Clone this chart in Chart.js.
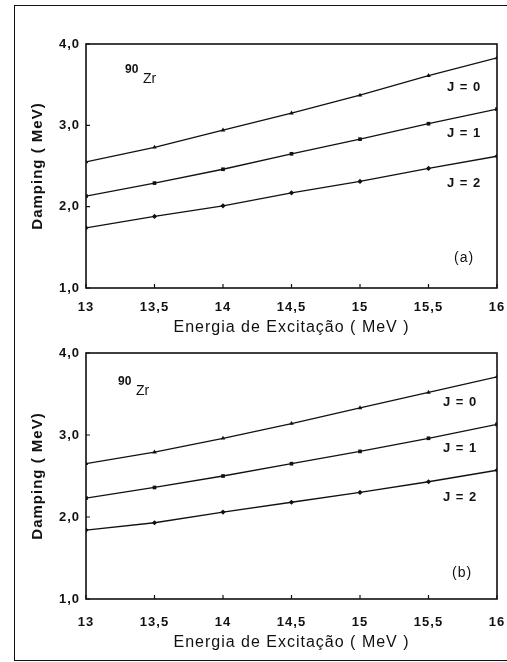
<!DOCTYPE html>
<html>
<head>
<meta charset="utf-8">
<script src="https://cdn.jsdelivr.net/npm/chart.js@4/dist/chart.umd.min.js"></script>
<style>
  body { margin: 0; background: #fff; }
  .frame { position: absolute; left: 14px; top: 5px; width: 520px; height: 654px; border: 1.5px solid #111; }
  .panel { position: absolute; left: 0; width: 507px; }
  #pa { top: 0; height: 337px; }
  #pb { top: 330px; height: 322px; }
</style>
</head>
<body>
<div class="frame"></div>
<div class="panel" id="pa"><canvas id="chartA"></canvas></div>
<div class="panel" id="pb"><canvas id="chartB"></canvas></div>
<script>
// excitation energy (MeV)
const energies = [13, 13.5, 14, 14.5, 15, 15.5, 16];

// damping width (MeV), panel (a)
const dampA_J0 = [2.55, 2.73, 2.94, 3.15, 3.37, 3.61, 3.83];
const dampA_J1 = [2.13, 2.29, 2.46, 2.65, 2.83, 3.02, 3.20];
const dampA_J2 = [1.74, 1.88, 2.01, 2.17, 2.31, 2.47, 2.62];

// damping width (MeV), panel (b)
const dampB_J0 = [2.65, 2.79, 2.96, 3.14, 3.33, 3.52, 3.71];
const dampB_J1 = [2.23, 2.36, 2.50, 2.65, 2.80, 2.96, 3.13];
const dampB_J2 = [1.84, 1.93, 2.06, 2.18, 2.30, 2.43, 2.57];

const spinLabels = ['J = 0', 'J = 1', 'J = 2'];
const xTicks = [13, 13.5, 14, 14.5, 15, 15.5, 16];
const yTicks = [1, 2, 3, 4];

const FONT = "'Liberation Sans', Arial, sans-serif";
const comma = v => String(v).replace('.', ',');

function series(values, style) {
  return {
    data: energies.map((e, k) => ({ x: e, y: values[k] })),
    borderColor: '#111',
    borderWidth: 1.3,
    pointStyle: style,
    pointRadius: 2.6,
    pointBackgroundColor: '#111',
    pointBorderColor: '#111',
    pointBorderWidth: 0,
    tension: 0
  };
}

// frame, inward ticks and text notes on the plot
const decor = {
  id: 'decor',
  beforeDraw(chart) {
    chart.ctx.letterSpacing = '1px';
  },
  afterDraw(chart) {
    const { ctx, chartArea: a, scales } = chart;
    const n = chart.options.plugins.decor;
    ctx.save();
    ctx.strokeStyle = '#111';
    ctx.lineWidth = 1.6;
    ctx.strokeRect(a.left, a.top, a.right - a.left, a.bottom - a.top);
    ctx.lineWidth = 1.2;
    ctx.beginPath();
    xTicks.forEach(v => {
      const px = scales.x.getPixelForValue(v);
      ctx.moveTo(px, a.bottom); ctx.lineTo(px, a.bottom - 4);
    });
    yTicks.forEach(v => {
      const py = scales.y.getPixelForValue(v);
      ctx.moveTo(a.left, py); ctx.lineTo(a.left + 4, py);
    });
    ctx.stroke();

    ctx.fillStyle = '#111';
    ctx.textBaseline = 'middle';
    ctx.textAlign = 'left';
    ctx.letterSpacing = '0px';
    ctx.font = 'bold 12px ' + FONT;
    ctx.fillText('90', a.left + n.iso[0], a.top + n.iso[1]);
    ctx.font = '14px ' + FONT;
    ctx.fillText('Zr', a.left + n.iso[0] + 18, a.top + n.iso[1] + 9);
    ctx.letterSpacing = '1px';
    ctx.font = 'bold 13px ' + FONT;
    spinLabels.forEach((t, k) => {
      ctx.fillText(t, n.jx, n.jy[k]);
    });
    ctx.font = '14px ' + FONT;
    ctx.fillText(n.tag, n.tagPos[0], n.tagPos[1]);
    ctx.restore();
  }
};

function makeChart(id, sets, o) {
  return new Chart(document.getElementById(id), {
    type: 'line',
    data: {
      datasets: [
        series(sets[0], 'triangle'),
        series(sets[1], 'rect'),
        series(sets[2], 'rectRot')
      ]
    },
    options: {
      responsive: true,
      maintainAspectRatio: false,
      animation: false,
      layout: { padding: { top: o.top, left: 14, right: 10, bottom: 0 } },
      plugins: {
        legend: { display: false },
        tooltip: { enabled: false },
        decor: o.decor
      },
      scales: {
        x: {
          type: 'linear', min: 13, max: 16,
          afterFit: s => { s.height = o.xh; s.paddingLeft = 0; s.paddingRight = 0; },
          afterBuildTicks: s => { s.ticks = xTicks.map(v => ({ value: v })); },
          grid: { display: false, drawTicks: false },
          border: { display: false },
          ticks: { padding: o.tickPad, color: '#111', font: { family: FONT, size: 13, weight: 'bold' }, callback: comma, maxRotation: 0 },
          title: { display: true, text: 'Energia de Excitação ( MeV )', color: '#111', padding: 0, font: { family: FONT, size: 16 } }
        },
        y: {
          min: 1, max: 4,
          afterFit: s => { s.width = 72; s.paddingTop = 0; s.paddingBottom = 0; },
          afterBuildTicks: s => { s.ticks = yTicks.map(v => ({ value: v })); },
          grid: { display: false, drawTicks: false },
          border: { display: false },
          ticks: { padding: 6, color: '#111', font: { family: FONT, size: 13, weight: 'bold' }, callback: v => comma(v.toFixed(1)) },
          title: { display: true, text: 'Damping ( MeV)', color: '#111', padding: { top: 15, bottom: 0 }, font: { family: FONT, size: 15, weight: 'bold' } }
        }
      }
    },
    plugins: [decor]
  });
}

makeChart('chartA', [dampA_J0, dampA_J1, dampA_J2], {
  top: 44, xh: 49, tickPad: 12,
  decor: { iso: [39, 26], jx: 447, jy: [87, 133, 183], tag: '(a)', tagPos: [454, 258] }
});

makeChart('chartB', [dampB_J0, dampB_J1, dampB_J2], {
  top: 23, xh: 53, tickPad: 16,
  decor: { iso: [32, 29], jx: 443, jy: [72, 118, 167], tag: '(b)', tagPos: [452, 243] }
});
</script>
</body>
</html>
